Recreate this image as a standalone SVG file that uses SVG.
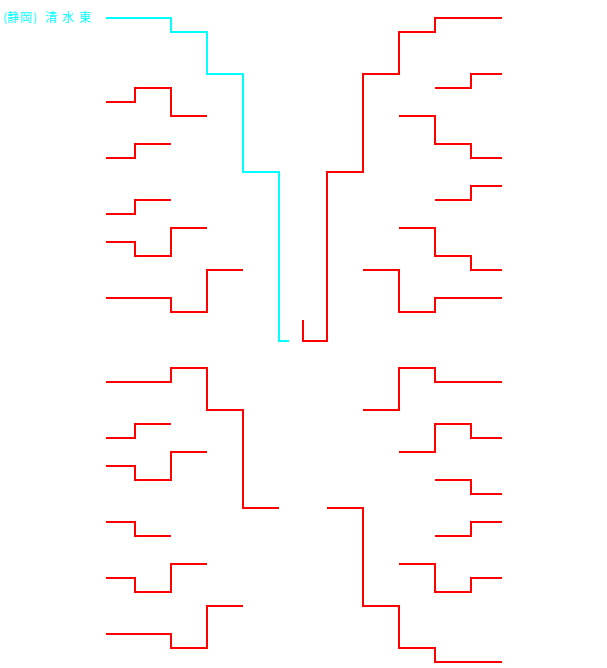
<svg xmlns="http://www.w3.org/2000/svg" width="607" height="668" viewBox="0 0 607 668">
<style>
.r{fill:none;stroke:#ff0000;stroke-width:2;stroke-linejoin:miter}
.c{fill:none;stroke:#00ffff;stroke-width:2;stroke-linejoin:miter}
.t{font-family:"Noto Sans CJK JP","Noto Sans CJK SC",sans-serif;font-size:12px;fill:#00ffff}
</style>
<rect width="607" height="668" fill="#ffffff"/>
<g id="label-shimizu-higashi">
<text class="t" x="3 7 20 33 40 45 57 62 74 79" y="22">(静岡) 清 水 東</text>
</g>
<g id="connectors">
<polyline class="c" points="106,18 171,18 171,32 207,32 207,74 243,74 243,172 279,172 279,341 289,341"/>
<polyline class="r" points="106,102 135,102 135,88 171,88 171,116 207,116"/>
<polyline class="r" points="106,158 135,158 135,144 171,144"/>
<polyline class="r" points="106,214 135,214 135,200 171,200"/>
<polyline class="r" points="106,242 135,242 135,256 171,256 171,228 207,228"/>
<polyline class="r" points="106,298 171,298 171,312 207,312 207,270 243,270"/>
<polyline class="r" points="303,320 303,341 327,341 327,172 363,172 363,74 399,74 399,32 435,32 435,18 502,18"/>
<polyline class="r" points="435,88 471,88 471,74 502,74"/>
<polyline class="r" points="399,116 435,116 435,144 471,144 471,158 502,158"/>
<polyline class="r" points="435,200 471,200 471,186 502,186"/>
<polyline class="r" points="399,228 435,228 435,256 471,256 471,270 502,270"/>
<polyline class="r" points="363,270 399,270 399,312 435,312 435,298 502,298"/>
<polyline class="r" points="106,382 171,382 171,368 207,368 207,410 243,410 243,508 279,508"/>
<polyline class="r" points="106,438 135,438 135,424 171,424"/>
<polyline class="r" points="106,466 135,466 135,480 171,480 171,452 207,452"/>
<polyline class="r" points="106,522 135,522 135,536 171,536"/>
<polyline class="r" points="106,578 135,578 135,592 171,592 171,564 207,564"/>
<polyline class="r" points="106,634 171,634 171,648 207,648 207,606 243,606"/>
<polyline class="r" points="363,410 399,410 399,368 435,368 435,382 502,382"/>
<polyline class="r" points="399,452 435,452 435,424 471,424 471,438 502,438"/>
<polyline class="r" points="435,480 471,480 471,494 502,494"/>
<polyline class="r" points="327,508 363,508 363,606 399,606 399,648 435,648 435,662 502,662"/>
<polyline class="r" points="435,536 471,536 471,522 502,522"/>
<polyline class="r" points="399,564 435,564 435,592 471,592 471,578 502,578"/>
</g>
</svg>
